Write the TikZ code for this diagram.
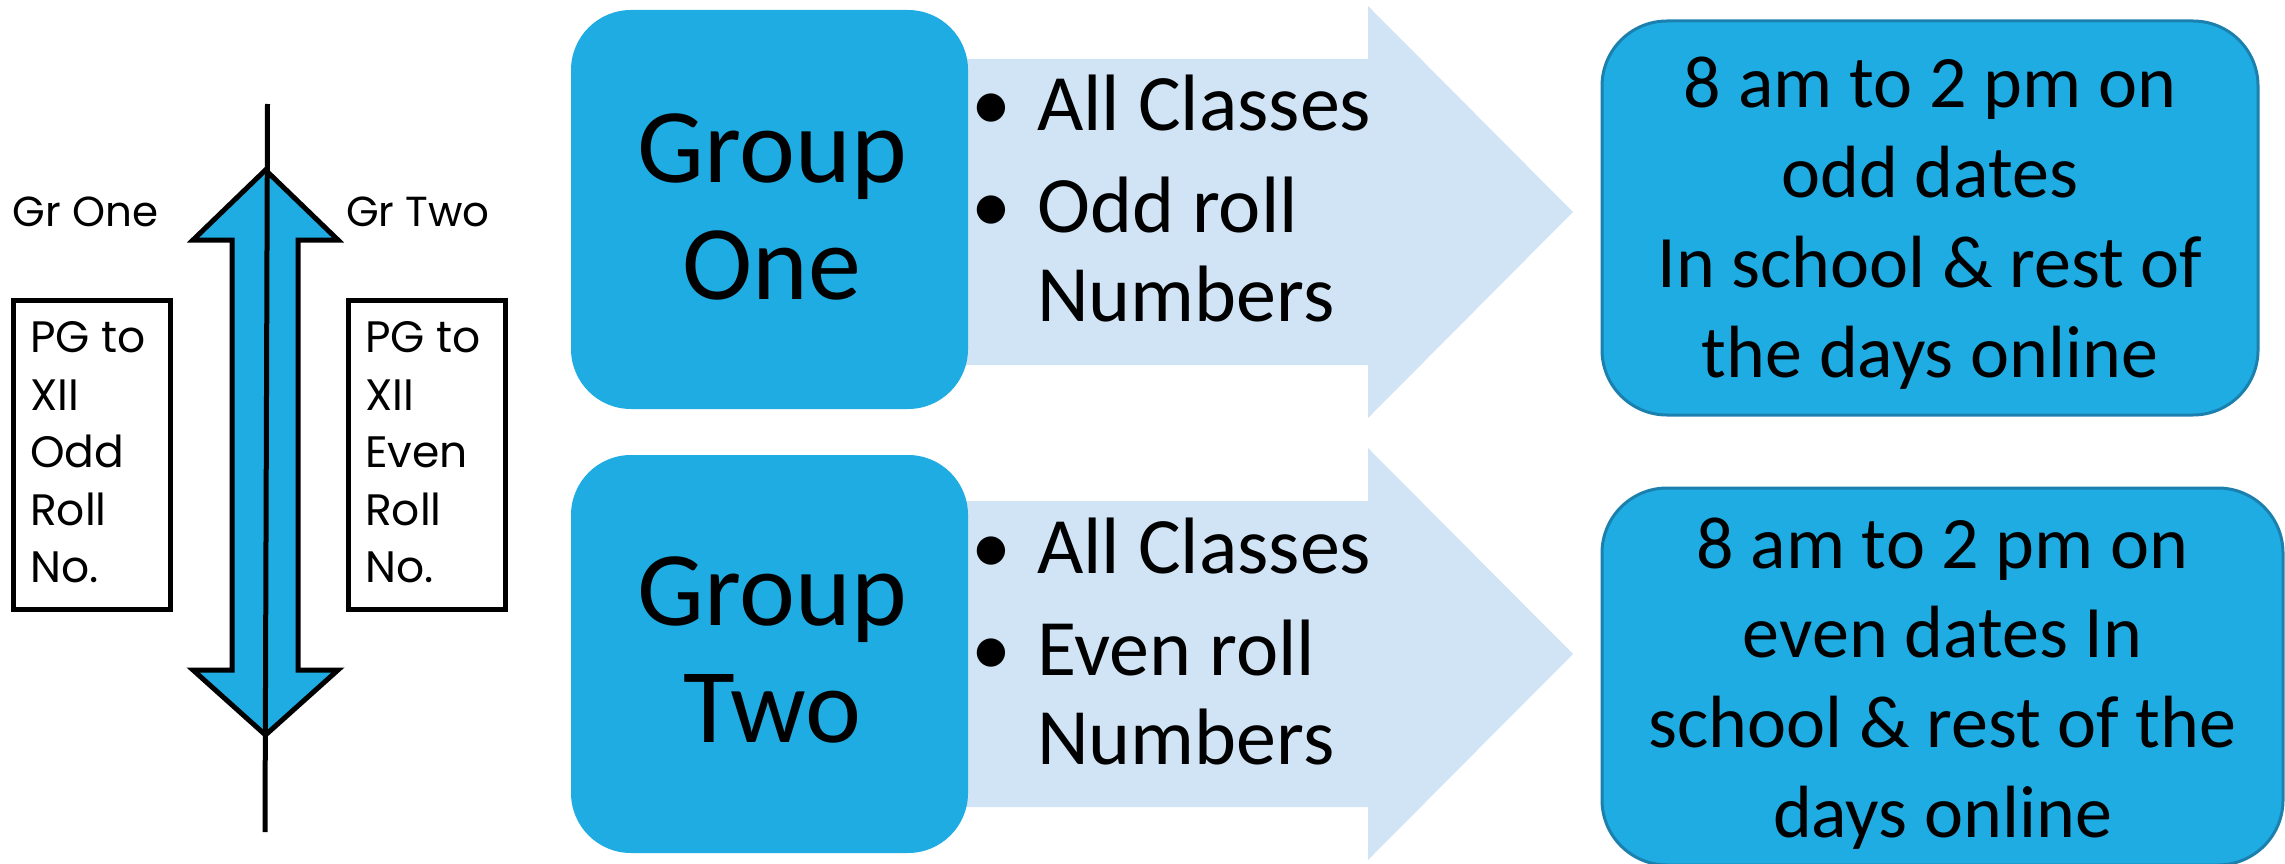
\documentclass[tikz,border=0pt]{standalone}
\usepackage{fontspec}
\setmainfont{Carlito}
\newfontfamily\gothic{Poppins}
\definecolor{mainblue}{RGB}{30,172,226}
\definecolor{edgeblue}{RGB}{27,128,174}
\definecolor{lightblue}{RGB}{208,228,245}
\begin{document}
\begin{tikzpicture}[x=1pt,y=-1pt,
  grpbox/.style={fill=mainblue, rounded corners=60pt, inner sep=0pt},
  timebox/.style={fill=mainblue, draw=edgeblue, line width=3pt, rounded corners=65pt, inner sep=0pt},
  sidebox/.style={draw=black, line width=5pt, inner sep=0pt},
  lightarrow/.style={fill=lightblue},
  dblarrow/.style={fill=mainblue, draw=black, line width=5pt, miter limit=10},
  axisline/.style={draw=black, line width=5pt},
  txt/.style={inner sep=0pt, text=black},
  grpfont/.style={font=\fontsize{106}{117}\selectfont},
  bulfont/.style={font=\fontsize{80}{89}\selectfont},
  timefont/.style={font=\fontsize{74}{89.7}\selectfont},
  sidefont/.style={font=\gothic\fontsize{42}{57.5}\selectfont},
  boxfont/.style={font=\gothic\fontsize{44}{57.5}\selectfont}
]
\useasboundingbox (0,0) rectangle (2285,864);
\clip (0,0) rectangle (2285,864);

% light arrows
\path[lightarrow] (940,59) -- (1368,59) -- (1368,6) -- (1573,212) -- (1368,418) -- (1368,365) -- (940,365) -- cycle;
\path[lightarrow] (940,501) -- (1368,501) -- (1368,448) -- (1573,654) -- (1368,860) -- (1368,807) -- (940,807) -- cycle;

% group boxes
\node[grpbox, minimum width=397pt, minimum height=399pt] (g1) at (769.5,209.5) {};
\node[grpbox, minimum width=397pt, minimum height=398pt] (g2) at (769.5,654) {};
\node[txt, grpfont, anchor=base] (g1t) at (772,182) {\begin{tabular}[t]{@{}c@{}}Group\\One\end{tabular}};
\node[txt, grpfont, anchor=base] (g2t) at (772,625) {\begin{tabular}[t]{@{}c@{}}Group\\Two\end{tabular}};

% bullet lists
\node[txt, bulfont, anchor=base west] (l1) at (945,131) {\begin{tabular}[t]{@{}l@{}}\makebox[92pt][c]{•}All Classes\\[13pt]\makebox[92pt][c]{•}Odd roll\\\hspace*{92pt}Numbers\end{tabular}};
\node[txt, bulfont, anchor=base west] (l2) at (945,573) {\begin{tabular}[t]{@{}l@{}}\makebox[92pt][c]{•}All Classes\\[13pt]\makebox[92pt][c]{•}Even roll\\\hspace*{92pt}Numbers\end{tabular}};

% time boxes
\node[timebox, minimum width=656pt, minimum height=394pt] (t1) at (1930,218) {};
\node[timebox, minimum width=681pt, minimum height=377pt] (t2) at (1942.5,676.5) {};
\node[txt, timefont, anchor=base] (t1t) at (1930,108) {\begin{tabular}[t]{@{}c@{}}8 am to 2 pm on\\odd dates\\In school \& rest of\\the days online\end{tabular}};
\node[txt, timefont, anchor=base] (t2t) at (1942.5,568) {\begin{tabular}[t]{@{}c@{}}8 am to 2 pm on\\even dates In\\school \& rest of the\\days online\end{tabular}};

% left side: double arrow and line
\path[dblarrow] (265.5,170) -- (338,240) -- (298,240) -- (298,670) -- (338,670) -- (265.5,735) -- (193,670) -- (232,670) -- (232,240) -- (193,240) -- cycle;
\coordinate (ltop) at (267.5,104);
\coordinate (lbot) at (265,832);
\draw[axisline] (ltop) -- (lbot);

\node[txt, sidefont, anchor=base] (gro) at (85.5,226) {Gr One};
\node[txt, sidefont, anchor=base] (grt) at (418,226) {Gr Two};
\node[sidebox, minimum width=157pt, minimum height=309pt] (s1) at (91.5,454.5) {};
\node[sidebox, minimum width=157pt, minimum height=309pt] (s2) at (426.5,454.5) {};
\node[txt, boxfont, anchor=base west] (s1t) at (30,352.5) {\begin{tabular}[t]{@{}l@{}}PG to\\XII\\Odd\\Roll\\No.\end{tabular}};
\node[txt, boxfont, anchor=base west] (s2t) at (365,352.5) {\begin{tabular}[t]{@{}l@{}}PG to\\XII\\Even\\Roll\\No.\end{tabular}};
\end{tikzpicture}
\end{document}
